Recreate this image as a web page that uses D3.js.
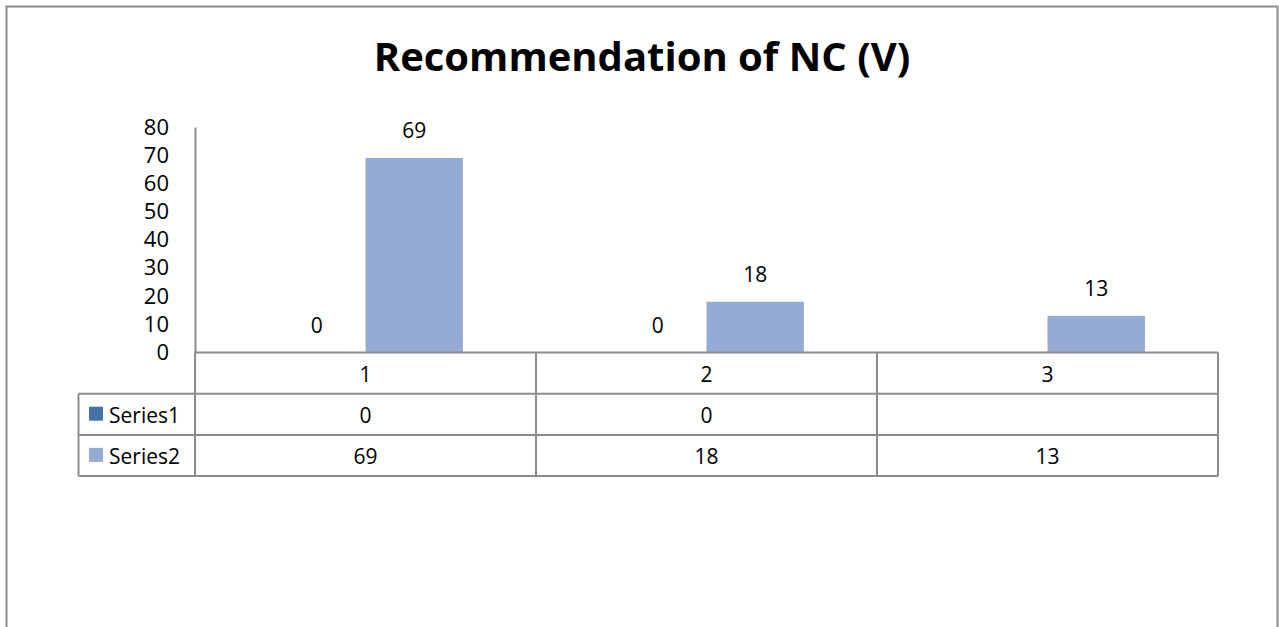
<!DOCTYPE html>
<html><head><meta charset="utf-8">
<script src="https://cdn.jsdelivr.net/npm/d3@7"></script>
<style>body{margin:0;background:#fff}svg{display:block}text{font-family:"Open Sans","Noto Sans",sans-serif}</style>
</head><body><svg id="c" width="1279" height="627"></svg>
<script>
const categories = ["1","2","3"];
const seriesNames = ["Series1","Series2"];
const series1 = [0, 0, null];
const series2 = [69, 18, 13];
const yTicks = [0,10,20,30,40,50,60,70,80];
const title = "Recommendation of NC (V)";
const colors = ["#4572a7","#96abd3"];
const FS = 21;

const svg = d3.select("#c");
svg.append("rect").attr("x",6.5).attr("y",6.5).attr("width",1271).attr("height",640)
  .attr("fill","#fff").attr("stroke","#8c8c8c").attr("stroke-width",2);

svg.append("text").attr("x",642).attr("y",71).attr("text-anchor","middle")
  .attr("font-size",40).attr("font-weight","bold").attr("fill","#000").text(title);

const x0 = 195, x1 = 1218, yTop = 127, yBot = 352.5;
const x = d3.scaleBand().domain(categories).range([x0,x1]);
const y = d3.scaleLinear().domain([0,80]).range([yBot,yTop]);
const xs = d3.scaleBand().domain(seriesNames).range([0,x.bandwidth()]).paddingInner(0).paddingOuter(0.75);

// y axis
const ya = svg.append("g").attr("transform",`translate(${x0},0)`)
  .call(d3.axisLeft(y).tickValues(yTicks).tickSize(0).tickPadding(26));
ya.select(".domain").attr("stroke","#8c8c8c").attr("stroke-width",2);
ya.selectAll("text").attr("font-size",22).attr("fill","#000").style("font-family",'"Open Sans",sans-serif');

const data = [series1, series2];
data.forEach((vals,si)=>{
  const g = svg.append("g");
  categories.forEach((c,i)=>{
    const v = vals[i];
    if (v===null) return;
    const bx = x(c)+xs(seriesNames[si]);
    if (v>0) g.append("rect").attr("x",bx).attr("y",y(v)).attr("width",xs.bandwidth()).attr("height",y(0)-y(v)).attr("fill",colors[si]);
    g.append("text").attr("x",bx+xs.bandwidth()/2).attr("y",y(v)-20).attr("text-anchor","middle")
      .attr("font-size",FS).attr("fill","#000").text(v);
  });
});

// data table
const rowH = 41.2;
const tableTop = yBot, legendX = 78.5;
const lc = "#8c8c8c";
svg.append("line").attr("x1",x0).attr("x2",x1).attr("y1",yBot).attr("y2",yBot).attr("stroke",lc).attr("stroke-width",2);
[1,2,3].forEach(r=>{
  svg.append("line").attr("x1",legendX).attr("x2",x1).attr("y1",tableTop+r*rowH).attr("y2",tableTop+r*rowH).attr("stroke",lc).attr("stroke-width",2);
});
svg.append("line").attr("x1",legendX).attr("x2",legendX).attr("y1",tableTop+rowH).attr("y2",tableTop+3*rowH).attr("stroke",lc).attr("stroke-width",2);
svg.append("line").attr("x1",x0).attr("x2",x0).attr("y1",tableTop).attr("y2",tableTop+3*rowH).attr("stroke",lc).attr("stroke-width",2);
categories.forEach(c=>{
  svg.append("line").attr("x1",x(c)+x.bandwidth()).attr("x2",x(c)+x.bandwidth()).attr("y1",tableTop).attr("y2",tableTop+3*rowH).attr("stroke",lc).attr("stroke-width",2);
});
categories.forEach(c=>{
  svg.append("text").attr("x",x(c)+x.bandwidth()/2).attr("y",tableTop+29.5).attr("text-anchor","middle").attr("font-size",FS).text(c);
});
data.forEach((vals,si)=>{
  const ry = tableTop+(si+1)*rowH;
  svg.append("rect").attr("x",89).attr("y",ry+13).attr("width",14).attr("height",14).attr("fill",colors[si]);
  svg.append("text").attr("x",109).attr("y",ry+29.5).attr("font-size",FS).text(seriesNames[si]);
  categories.forEach((c,i)=>{
    if (vals[i]===null) return;
    svg.append("text").attr("x",x(c)+x.bandwidth()/2).attr("y",ry+29.5).attr("text-anchor","middle").attr("font-size",FS).text(vals[i]);
  });
});
</script></body></html>
